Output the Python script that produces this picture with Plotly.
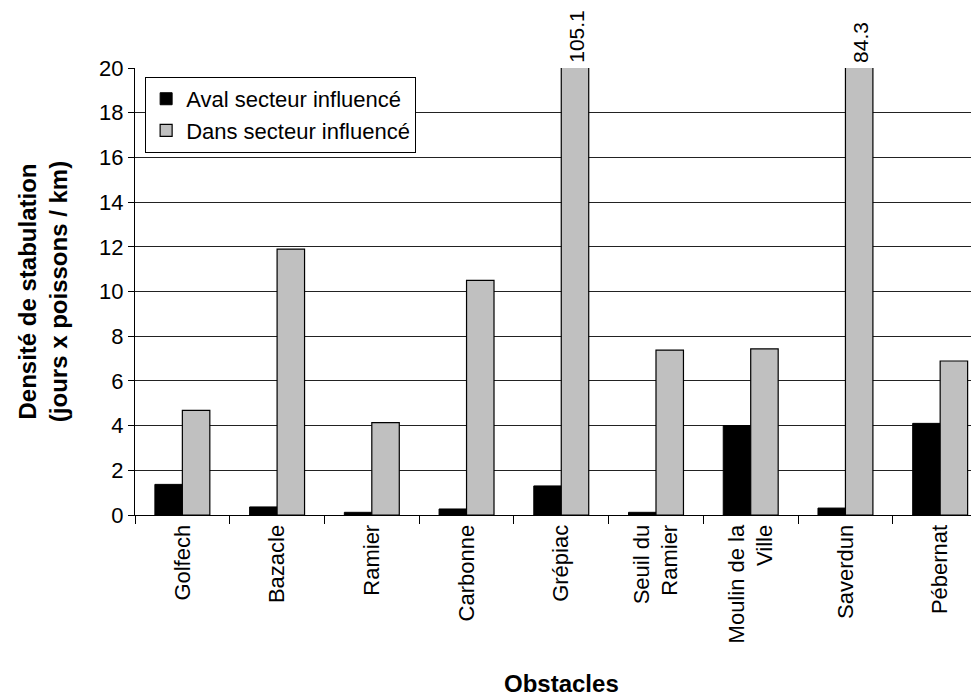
import plotly.graph_objects as go

# données
obstacles = ["Golfech", "Bazacle", "Ramier", "Carbonne", "Grépiac",
             "Seuil du<br>Ramier", "Moulin de la<br>Ville", "Saverdun", "Pébernat"]
aval = [1.37, 0.36, 0.12, 0.27, 1.3, 0.12, 4.0, 0.31, 4.1]
dans = [4.68, 11.9, 4.13, 10.5, 105.1, 7.38, 7.43, 84.3, 6.89]
y_max = 20

fig = go.Figure()
fig.add_trace(go.Bar(x=obstacles, y=aval, name="Aval secteur influencé",
                     marker=dict(color="black", line=dict(color="black", width=1))))
fig.add_trace(go.Bar(x=obstacles, y=dans, name="Dans secteur influencé",
                     marker=dict(color="#C0C0C0", line=dict(color="black", width=1.2))))

# valeurs hors échelle
annots = []
for cat, v in zip(obstacles, dans):
    if v > y_max:
        annots.append(dict(x=cat, y=y_max, xref="x", yref="y", text=str(v),
                           textangle=-90, showarrow=False, xshift=15, yshift=3,
                           yanchor="bottom", font=dict(size=21, color="black")))
annots.append(dict(x=0.505, y=-0.376, xref="paper", yref="paper", text="<b>Obstacles</b>",
                   showarrow=False, yanchor="middle", font=dict(size=24, color="black")))

# la page ajoute une marge de 8 px : on compense
fig.update_layout(
    width=971, height=689,
    margin=dict(l=127, r=0, t=60, b=182),
    plot_bgcolor="white", paper_bgcolor="white",
    font=dict(family="Liberation Sans, Arial", color="black"),
    barmode="group", bargap=0.42, bargroupgap=0,
    annotations=annots,
    legend=dict(x=0.012, y=0.98, xanchor="left", yanchor="top",
                bgcolor="white", bordercolor="black", borderwidth=1,
                font=dict(size=22), tracegroupgap=0),
)
fig.update_xaxes(range=[-0.5, 8.41], tickangle=-90, tickfont=dict(size=22),
                 showline=True, linecolor="black", linewidth=1,
                 ticks="outside", ticklen=8, tickcolor="black", tickson="boundaries",
                 showgrid=False)
fig.update_yaxes(range=[0, y_max], dtick=2, tickfont=dict(size=22),
                 showline=True, linecolor="black", linewidth=1,
                 ticks="outside", ticklen=6, tickcolor="black",
                 showgrid=True, gridcolor="#222", gridwidth=1,
                 title=dict(text="<b>Densité de stabulation<br>(jours x poissons / km)</b>",
                            font=dict(size=24), standoff=24))

fig.write_html("out.html")
